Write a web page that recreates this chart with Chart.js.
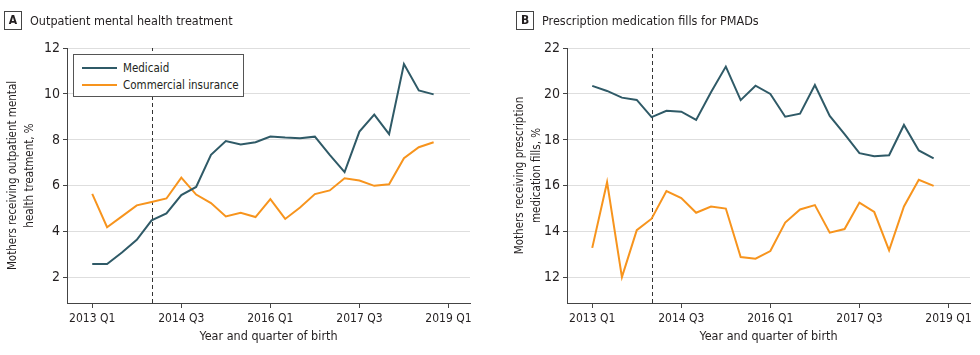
<!DOCTYPE html>
<html>
<head>
<meta charset="utf-8">
<script src="https://cdn.jsdelivr.net/npm/chart.js@4.4.0/dist/chart.umd.min.js"></script>
<style>
  html, body { margin: 0; padding: 0; background: #fff; }
  body { width: 980px; height: 355px; position: relative; overflow: hidden;
         font-family: 'Liberation Sans Narrow', 'DejaVu Sans Condensed', 'Liberation Sans', sans-serif; color: #231f20; }
  .panel { position: absolute; top: 0; height: 355px; }
  .panel canvas { position: absolute; left: 0; top: 0; }
  .hdr { position: absolute; top: 10px; height: 20px; display: flex; align-items: center; font-size: 12.5px; white-space: nowrap; }
  .hdr .box { box-sizing: border-box; width: 18px; height: 19px; border: 1px solid #444; font-weight: bold; font-size: 12px;
              display: flex; align-items: center; justify-content: center; margin-right: 8px; }
  .legend { position: absolute; box-sizing: border-box; left: 73px; top: 54px; width: 171px; height: 43px;
            border: 1px solid #555; background: #fff; padding: 4px 0 0 8px; font-size: 11.5px; white-space: nowrap; }
  .legend .row { display: flex; align-items: center; height: 17px; }
  .legend .sw { width: 35px; height: 2px; margin-right: 6px; }
</style>
</head>
<body>
<div class="panel" style="left:0;width:490px">
  <canvas id="cA" width="490" height="355"></canvas>
</div>
<div class="panel" style="left:490px;width:490px">
  <canvas id="cB" width="490" height="355"></canvas>
</div>
<div class="hdr" style="left:4px"><div class="box">A</div><span>Outpatient mental health treatment</span></div>
<div class="hdr" style="left:516px"><div class="box">B</div><span>Prescription medication fills for PMADs</span></div>
<div class="legend" id="legend"></div>

<script>
// ---- data ----
const quarters = [
  '2013 Q1','2013 Q2','2013 Q3','2013 Q4',
  '2014 Q1','2014 Q2','2014 Q3','2014 Q4',
  '2015 Q1','2015 Q2','2015 Q3','2015 Q4',
  '2016 Q1','2016 Q2','2016 Q3','2016 Q4',
  '2017 Q1','2017 Q2','2017 Q3','2017 Q4',
  '2018 Q1','2018 Q2','2018 Q3','2018 Q4'
];
const seriesNames = ['Medicaid', 'Commercial insurance'];
const seriesColors = ['#2f5a67', '#f7941d'];

const outpatientMedicaid   = [2.6, 2.6, 3.1, 3.65, 4.5, 4.8, 5.6, 5.95, 7.35, 7.95, 7.8, 7.9, 8.15, 8.1, 8.07, 8.14, 7.35, 6.6, 8.36, 9.1, 8.25, 11.3, 10.15, 9.98];
const outpatientCommercial = [5.65, 4.2, 4.67, 5.15, 5.3, 5.45, 6.36, 5.62, 5.25, 4.67, 4.83, 4.64, 5.42, 4.56, 5.06, 5.64, 5.8, 6.33, 6.23, 6.0, 6.07, 7.2, 7.68, 7.9];

const rxMedicaid   = [20.35, 20.13, 19.84, 19.74, 18.99, 19.27, 19.23, 18.87, 20.07, 21.19, 19.73, 20.36, 20.0, 19.01, 19.14, 20.39, 19.04, 18.25, 17.42, 17.29, 17.33, 18.65, 17.54, 17.2];
const rxCommercial = [13.3, 16.16, 12.03, 14.07, 14.57, 15.77, 15.47, 14.83, 15.1, 15.01, 12.9, 12.83, 13.16, 14.4, 14.97, 15.16, 13.96, 14.12, 15.27, 14.86, 13.19, 15.1, 16.26, 16.0];

const xTickLabels = ['2013 Q1', '2014 Q3', '2016 Q1', '2017 Q3', '2019 Q1'];
const policyQuarter = '2014 Q1';

const titleA = ['Mothers receiving outpatient mental', 'health treatment, %'];
const titleB = ['Mothers receiving prescription', 'medication fills, %'];
const xTitle = 'Year and quarter of birth';

// ---- helpers ----
function quarterIndex(label) {
  const [y, q] = label.split(' Q');
  return (parseInt(y) - 2013) * 4 + (parseInt(q) - 1);
}
const xTickValues = xTickLabels.map(quarterIndex);
const policyIndex = quarterIndex(policyQuarter);
const toXY = vals => vals.map((v, i) => ({ x: quarterIndex(quarters[i]), y: v }));

const FONT = "'Liberation Sans Narrow', 'DejaVu Sans Condensed', 'Liberation Sans', sans-serif";
const TEXT = '#231f20';
const AXIS = '#444';

const dashPlugin = {
  id: 'policyLine',
  beforeDatasetsDraw(chart) {
    const ctx = chart.ctx;
    const x = Math.round(chart.scales.x.getPixelForValue(policyIndex)) + 0.5;
    const { top, bottom } = chart.chartArea;
    ctx.save();
    ctx.strokeStyle = '#333';
    ctx.lineWidth = 1;
    ctx.setLineDash([4, 3]);
    ctx.beginPath();
    ctx.moveTo(x, bottom);
    ctx.lineTo(x, top);
    ctx.stroke();
    ctx.restore();
  }
};

function makePanel(id, medicaid, commercial, ymin, ymax, yTitle, yWidth, titlePad, padRight) {
  return new Chart(document.getElementById(id), {
    type: 'line',
    data: {
      datasets: [
        { label: seriesNames[0], data: toXY(medicaid), borderColor: seriesColors[0], borderWidth: 2,
          pointRadius: 0, tension: 0, fill: false },
        { label: seriesNames[1], data: toXY(commercial), borderColor: seriesColors[1], borderWidth: 2,
          pointRadius: 0, tension: 0, fill: false }
      ]
    },
    options: {
      responsive: false,
      animation: false,
      devicePixelRatio: 1,
      layout: { padding: { top: 48, right: padRight, bottom: 0, left: 0 } },
      plugins: { legend: { display: false }, tooltip: { enabled: false } },
      scales: {
        x: {
          type: 'linear', min: -1.7, max: 25.45,
          afterBuildTicks: s => { s.ticks = xTickValues.map(v => ({ value: v })); },
          afterFit: s => { s.height = 52; },
          ticks: {
            autoSkip: false, maxRotation: 0, padding: 4, color: TEXT,
            font: { family: FONT, size: 12 },
            callback: v => { const k = xTickValues.indexOf(v); return k >= 0 ? xTickLabels[k] : ''; }
          },
          grid: { drawOnChartArea: false, drawTicks: true, tickLength: 5, color: AXIS },
          border: { color: AXIS, width: 1 },
          title: { display: true, text: xTitle, color: TEXT, font: { family: FONT, size: 12.5 },
                   padding: { top: 0, bottom: 11 } }
        },
        y: {
          min: ymin, max: ymax,
          afterFit: s => { s.width = yWidth; },
          ticks: { stepSize: 2, includeBounds: false, padding: 3, color: TEXT, font: { family: FONT, size: 14 } },
          grid: { color: '#dedede', lineWidth: 1, tickColor: AXIS, tickLength: 4 },
          border: { color: AXIS, width: 1 },
          title: { display: true, text: yTitle, color: TEXT, font: { family: FONT, size: 11.5, lineHeight: 1.48 },
                   padding: { top: titlePad, bottom: 0 } }
        }
      }
    },
    plugins: [dashPlugin]
  });
}

makePanel('cA', outpatientMedicaid, outpatientCommercial, 0.9, 12, titleA, 67, 4.5, 20);
makePanel('cB', rxMedicaid, rxCommercial, 10.9, 22, titleB, 77, 21.5, 10);

// legend (panel A)
const lg = document.getElementById('legend');
seriesNames.forEach((n, i) => {
  const row = document.createElement('div');
  row.className = 'row';
  const sw = document.createElement('div');
  sw.className = 'sw';
  sw.style.background = seriesColors[i];
  const t = document.createElement('span');
  t.textContent = n;
  row.appendChild(sw); row.appendChild(t);
  lg.appendChild(row);
});
</script>
</body>
</html>
